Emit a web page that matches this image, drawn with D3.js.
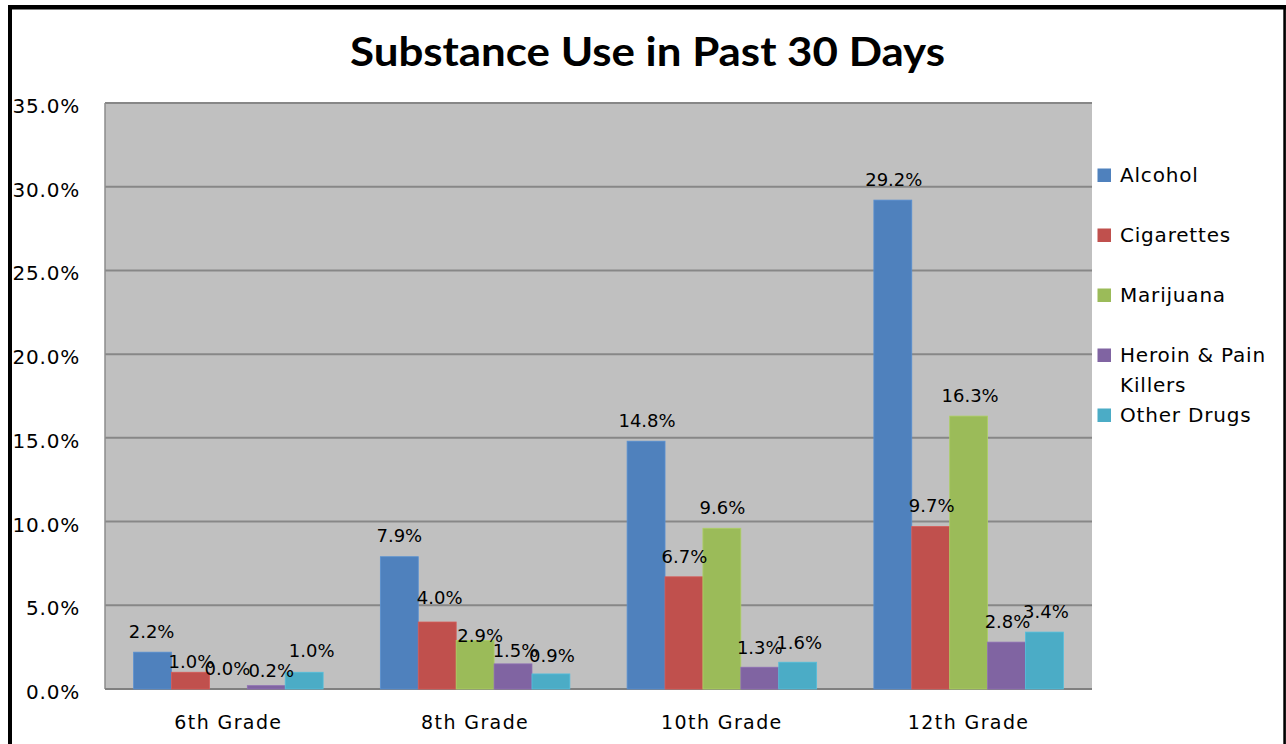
<!DOCTYPE html>
<html>
<head>
<meta charset="utf-8">
<script src="https://cdn.jsdelivr.net/npm/d3@7"></script>
<style>
  html, body { margin: 0; padding: 0; background: #fff; }
  svg { display: block; }
</style>
</head>
<body>
<svg id="chart" width="1286" height="744"></svg>
<script>
// ---- data ----
const grades = ["6th Grade", "8th Grade", "10th Grade", "12th Grade"];
const substances = ["Alcohol", "Cigarettes", "Marijuana", "Heroin & Pain Killers", "Other Drugs"];
const alcohol    = [2.2, 7.9, 14.8, 29.2];
const cigarettes = [1.0, 4.0, 6.7, 9.7];
const marijuana  = [0.0, 2.9, 9.6, 16.3];
const heroin     = [0.2, 1.5, 1.3, 2.8];
const otherDrugs = [1.0, 0.9, 1.6, 3.4];
const yTicks = [0, 5, 10, 15, 20, 25, 30, 35];

// ---- styling ----
const colors = ["#4f81bd", "#c0504d", "#9bbb59", "#8064a2", "#4bacc6"];
// small per-label shifts [dx, dy] that keep neighbouring value labels apart
const labelNudge = [
  [[-2, 0], [0, 10.5], [-2, 0], [4, 5.5], [6.5, -1]],
  [[-1, -0.5], [1.5, -4], [4, 15.8], [1.5, 7.3], [0, 2.3]],
  [[0, 0], [-0.5, 0.5], [-0.5, 0], [-1, 1.5], [0.5, 1.5]],
  [[0, 0], [0, 0], [0.5, 0], [0, 0], [0.5, 0]]
];

const series = [alcohol, cigarettes, marijuana, heroin, otherDrugs];

const svg = d3.select("#chart");
const plot = { left: 105, top: 103, right: 1092, bottom: 689 };
const FONT = "'DejaVu Sans', Verdana, sans-serif";

// outer frame (top, left, right edges visible)
svg.append("line").attr("x1", 8).attr("x2", 1286).attr("y1", 7.2).attr("y2", 7.2)
  .attr("stroke", "#000").attr("stroke-width", 4.5);
svg.append("line").attr("x1", 10).attr("x2", 10).attr("y1", 5).attr("y2", 744)
  .attr("stroke", "#000").attr("stroke-width", 4);
svg.append("line").attr("x1", 1284.6).attr("x2", 1284.6).attr("y1", 5).attr("y2", 744)
  .attr("stroke", "#000").attr("stroke-width", 2.6);

// title
svg.append("text")
  .attr("x", 647.5).attr("y", 66)
  .attr("text-anchor", "middle")
  .attr("font-family", "Lato, 'Open Sans', sans-serif")
  .attr("font-weight", "bold")
  .attr("font-size", 40)
  .attr("textLength", 595)
  .attr("lengthAdjust", "spacingAndGlyphs")
  .attr("fill", "#000")
  .text("Substance Use in Past 30 Days");

// scales
const x0 = d3.scaleBand().domain(grades)
  .range([plot.left, plot.right]).paddingInner(0.232).paddingOuter(0.116);
const x1 = d3.scaleBand().domain(d3.range(substances.length))
  .range([0, x0.bandwidth()]);
const y = d3.scaleLinear().domain([0, 35]).range([plot.bottom, plot.top]);

// plot background
svg.append("rect")
  .attr("x", plot.left).attr("y", plot.top)
  .attr("width", plot.right - plot.left).attr("height", plot.bottom - plot.top)
  .attr("fill", "#c0c0c0");

// gridlines
svg.append("g").selectAll("line").data(yTicks.filter(t => t > 0)).join("line")
  .attr("x1", plot.left).attr("x2", plot.right)
  .attr("y1", d => y(d)).attr("y2", d => y(d))
  .attr("stroke", "#878787").attr("stroke-width", 2);

// plot-area left edge and category axis
svg.append("line").attr("x1", plot.left).attr("x2", plot.left)
  .attr("y1", plot.top).attr("y2", plot.bottom)
  .attr("stroke", "#8c8c8c").attr("stroke-width", 1.5);
svg.append("line").attr("x1", plot.left).attr("x2", plot.right)
  .attr("y1", plot.bottom).attr("y2", plot.bottom)
  .attr("stroke", "#808080").attr("stroke-width", 2);

// y axis tick labels
const yAxis = d3.axisLeft(y).tickValues(yTicks).tickSize(0).tickPadding(0)
  .tickFormat(d => d3.format(".1f")(d) + "%");
const gy = svg.append("g").attr("transform", "translate(80,0)").call(yAxis);
gy.select(".domain").remove();
gy.selectAll("text")
  .attr("font-family", FONT).attr("font-size", 20)
  .attr("letter-spacing", "0.8px")
  .attr("fill", "#000")
  .attr("dy", "9.5").attr("x", 0);

// x axis category labels
const xAxis = d3.axisBottom(x0).tickSize(0).tickPadding(0);
const gx = svg.append("g").attr("transform", `translate(0,${plot.bottom})`).call(xAxis);
gx.select(".domain").remove();
gx.selectAll("text")
  .attr("font-family", FONT).attr("font-size", 19)
  .attr("letter-spacing", "1.4px")
  .attr("fill", "#000")
  .attr("y", 40).attr("dy", 0);

// bars
const cells = [];
grades.forEach((g, gi) => {
  series.forEach((s, si) => cells.push({ g, gi, si, v: s[gi] }));
});

svg.append("g").selectAll("rect").data(cells).join("rect")
  .attr("x", d => x0(d.g) + x1(d.si))
  .attr("y", d => y(d.v))
  .attr("width", x1.bandwidth())
  .attr("height", d => y(0) - y(d.v))
  .attr("fill", d => colors[d.si])
  .attr("stroke", d => d3.color(colors[d.si]).brighter(0.3))
  .attr("stroke-width", 0.8);

// value labels
svg.append("g").selectAll("text").data(cells).join("text")
  .attr("x", d => x0(d.g) + x1(d.si) + x1.bandwidth() / 2 + 1 + labelNudge[d.gi][d.si][0])
  .attr("y", d => y(d.v) - 14.5 + labelNudge[d.gi][d.si][1])
  .attr("text-anchor", "middle")
  .attr("font-family", FONT).attr("font-size", 18)
  .attr("fill", "#000")
  .text(d => d3.format(".1f")(d.v) + "%");

// legend
const legend = svg.append("g");
const legendY = d3.scaleLinear().domain([0, 4]).range([182, 422]);
substances.forEach((name, i) => {
  const by = legendY(i);
  legend.append("rect")
    .attr("x", 1097.5).attr("y", by - 13.5)
    .attr("width", 13.5).attr("height", 13.5)
    .attr("fill", colors[i]);
  const t = legend.append("text")
    .attr("x", 1120).attr("y", by)
    .attr("font-family", FONT).attr("font-size", 20)
    .attr("letter-spacing", "0.8px")
    .attr("fill", "#000");
  if (name === "Heroin & Pain Killers") {
    t.append("tspan").attr("x", 1120).attr("y", by).text("Heroin & Pain");
    t.append("tspan").attr("x", 1120).attr("y", by + 29.7).text("Killers");
  } else {
    t.text(name);
  }
});
</script>
</body>
</html>
